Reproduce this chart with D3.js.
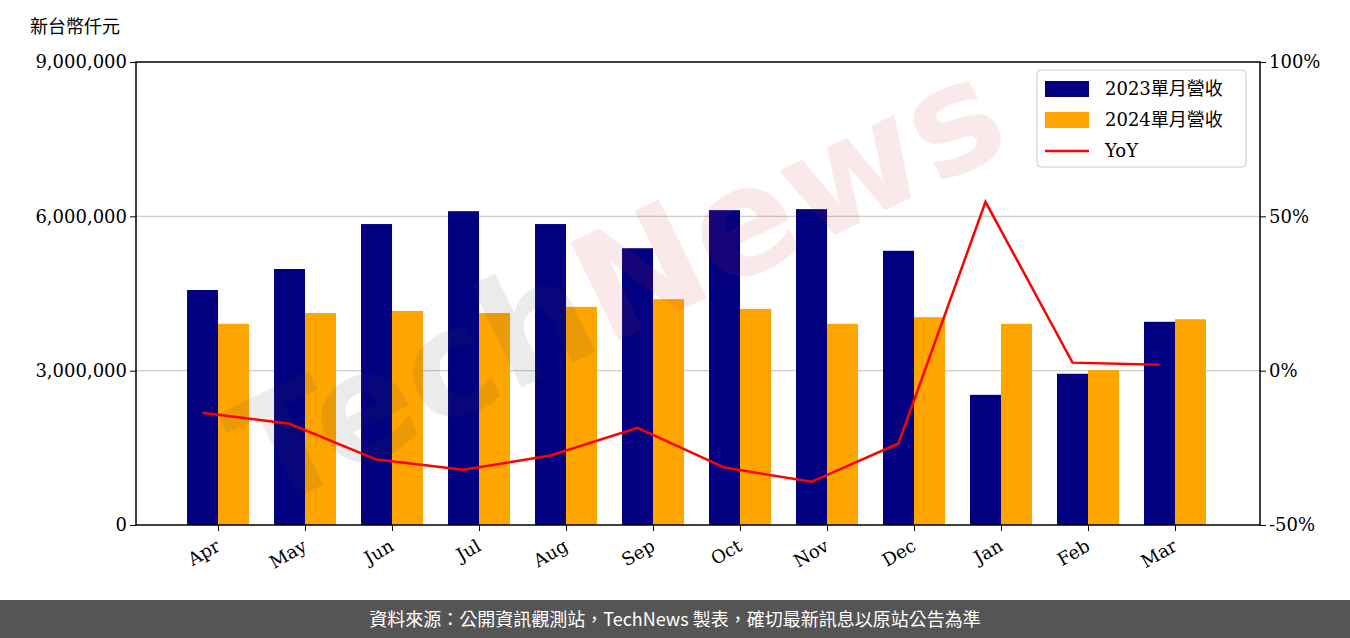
<!DOCTYPE html>
<html><head><meta charset="utf-8">
<script src="https://cdn.jsdelivr.net/npm/d3@7"></script>
<style>body{margin:0;background:#fff}</style>
</head><body>
<svg id="c" width="1350" height="638"></svg>
<script>
var months = ["Apr","May","Jun","Jul","Aug","Sep","Oct","Nov","Dec","Jan","Feb","Mar"];
var rev2023 = [4568000,4976000,5850000,6100000,5850000,5380000,6120000,6140000,5330000,2530000,2940000,3950000];
var rev2024 = [3910000,4120000,4160000,4120000,4240000,4390000,4200000,3910000,4040000,3910000,3010000,4000000];
var yoy = [-13.6,-17.2,-28.8,-32.1,-27.5,-18.5,-31.4,-36.0,-23.6,54.7,2.6,1.9];
var leftTicks = [0,3000000,6000000,9000000];
var rightTicks = [-50,0,50,100];

var svg = d3.select("#c");
var L = 136, R = 1260, T = 62, B = 525;
var serif = "DejaVu Serif, serif";

var x = d3.scaleLinear().domain([-0.943, 11.977]).range([L, R]);
var y = d3.scaleLinear().domain([0, 9000000]).range([B, T]);
var y2 = d3.scaleLinear().domain([-50, 100]).range([B, T]);
var bw = 31;

svg.append("g").selectAll("line").data([3000000,6000000]).enter().append("line")
  .attr("x1",L).attr("x2",R).attr("y1",d=>y(d)).attr("y2",d=>y(d))
  .attr("stroke","#ccc").attr("stroke-width",1.2);

svg.append("g").selectAll("rect").data(rev2023).enter().append("rect")
  .attr("x",(d,i)=>x(i)-bw).attr("width",bw).attr("y",d=>y(d)).attr("height",d=>B-y(d))
  .attr("fill","#000080");
svg.append("g").selectAll("rect").data(rev2024).enter().append("rect")
  .attr("x",(d,i)=>x(i)).attr("width",bw).attr("y",d=>y(d)).attr("height",d=>B-y(d))
  .attr("fill","#ffa500");

// watermark
var wm = svg.append("text").attr("transform","translate(640,330) rotate(-26)")
  .attr("text-anchor","middle").attr("font-family","DejaVu Sans, sans-serif")
  .attr("font-weight","bold").attr("font-size",150).attr("opacity",0.1);
wm.append("tspan").attr("fill","#444").text("Tech");
wm.append("tspan").attr("fill","#d03040").text("News");

svg.append("path").datum(yoy)
  .attr("d", d3.line().x((d,i)=>x(i)-bw/2).y(d=>y2(d)))
  .attr("fill","none").attr("stroke","#ff0000").attr("stroke-width",2.5);

svg.append("rect").attr("x",L).attr("y",T).attr("width",R-L).attr("height",B-T)
  .attr("fill","none").attr("stroke","#000").attr("stroke-width",1.5);

var la = svg.append("g").attr("transform","translate("+L+",0)")
  .call(d3.axisLeft(y).tickValues(leftTicks).tickFormat(d3.format(",")).tickSizeOuter(0));
var ra = svg.append("g").attr("transform","translate("+R+",0)")
  .call(d3.axisRight(y2).tickValues(rightTicks).tickFormat(d=>d+"%").tickSizeOuter(0));
var ba = svg.append("g").attr("transform","translate(0,"+B+")")
  .call(d3.axisBottom(x).tickValues(d3.range(12)).tickFormat(i=>months[i]).tickSizeOuter(0));
[la,ra,ba].forEach(a=>{a.select(".domain").remove();
  a.selectAll("text").attr("font-family",serif).attr("font-size",18).attr("fill","#000");
  a.selectAll("line").attr("stroke","#000");});
ba.selectAll("text").attr("text-anchor","end").attr("x",-10).attr("y",10).attr("dy","0.7em")
  .attr("transform","rotate(-30)");

svg.append("text").attr("x",30).attr("y",33).attr("font-family","Noto Sans CJK TC")
  .attr("font-size",18).text("新台幣仟元");

// legend
var lg = svg.append("g").attr("transform","translate(1037,70)");
lg.append("rect").attr("width",209).attr("height",97).attr("rx",4).attr("fill","#fff")
  .attr("fill-opacity",0.8).attr("stroke","#ccc");
var items = [["2023單月營收","#000080","bar"],["2024單月營收","#ffa500","bar"],["YoY","#ff0000","line"]];
items.forEach((it,i)=>{
  var yy = 19 + i*31;
  if (it[2]=="bar") lg.append("rect").attr("x",8).attr("y",yy-8).attr("width",44).attr("height",16).attr("fill",it[1]);
  else lg.append("line").attr("x1",8).attr("x2",52).attr("y1",yy).attr("y2",yy).attr("stroke",it[1]).attr("stroke-width",2.5);
  lg.append("text").attr("x",68).attr("y",yy+6).attr("font-family",serif+", Noto Sans CJK TC")
    .attr("font-size",18).text(it[0]);
});

// footer
svg.append("rect").attr("x",0).attr("y",600).attr("width",1350).attr("height",38).attr("fill","#555");
svg.append("text").attr("x",675).attr("y",626).attr("text-anchor","middle").attr("fill","#fff")
  .attr("font-family","Noto Sans CJK TC").attr("font-size",18)
  .text("資料來源：公開資訊觀測站，TechNews 製表，確切最新訊息以原站公告為準");
</script>
</body></html>
